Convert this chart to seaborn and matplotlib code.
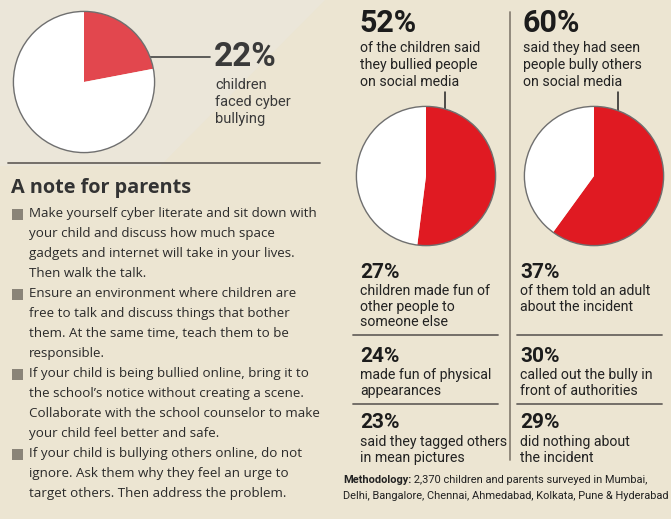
import matplotlib
matplotlib.use("Agg")
import matplotlib.pyplot as plt
import seaborn as sns
from matplotlib.patches import Circle, Polygon, Rectangle

sns.set_theme(style="white")
plt.rcParams['font.family'] = ['Open Sans', 'DejaVu Sans']

# ---- data ----
pie_labels = ["faced cyber bullying", "bullied on social media", "saw others bullied"]
pie_values = [22, 52, 60]
headline_pcts = ["22%", "52%", "60%"]
headline_texts = [
    "children\nfaced cyber\nbullying",
    "of the children said\nthey bullied people\non social media",
    "said they had seen\npeople bully others\non social media",
]
left_pcts = ["27%", "24%", "23%"]
left_texts = [
    "children made fun of\nother people to\nsomeone else",
    "made fun of physical\nappearances",
    "said they tagged others\nin mean pictures",
]
right_pcts = ["37%", "30%", "29%"]
right_texts = [
    "of them told an adult\nabout the incident",
    "called out the bully in\nfront of authorities",
    "did nothing about\nthe incident",
]
note_title = "A note for parents"
note_items = [
    ["Make yourself cyber literate and sit down with",
     "your child and discuss how much space",
     "gadgets and internet will take in your lives.",
     "Then walk the talk."],
    ["Ensure an environment where children are",
     "free to talk and discuss things that bother",
     "them. At the same time, teach them to be",
     "responsible."],
    ["If your child is being bullied online, bring it to",
     "the school\u2019s notice without creating a scene.",
     "Collaborate with the school counselor to make",
     "your child feel better and safe."],
    ["If your child is bullying others online, do not",
     "ignore. Ask them why they feel an urge to",
     "target others. Then address the problem."],
]
method_bold = "Methodology:"
method_lines = [" 2,370 children and parents surveyed in Mumbai,",
                "Delhi, Bangalore, Chennai, Ahmedabad, Kolkata, Pune & Hyderabad"]

# ---- figure ----
W, H = 671, 519
BG = "#ece5d2"
fig = plt.figure(figsize=(W / 100, H / 100), dpi=100, facecolor=BG)
bg = fig.add_axes([0, 0, 1, 1])
bg.set_xlim(0, W)
bg.set_ylim(H, 0)
bg.axis("off")
bg.add_patch(Rectangle((0, 0), W, H, color=BG, zorder=0))
bg.add_patch(Polygon([(0, 0), (325, 0), (160, 166), (0, 166)], closed=True,
                     color="#ebe6d9", zorder=0.5, lw=0))

NARROW = ['Roboto', 'DejaVu Sans']

def pie_at(cx, cy, r, value, red):
    ax = fig.add_axes([(cx - r) / W, 1 - (cy + r) / H, 2 * r / W, 2 * r / H])
    ax.pie([value, 100 - value], colors=[red, "white"], startangle=90,
           counterclock=False, radius=1, wedgeprops=dict(linewidth=0))
    ax.add_patch(Circle((0, 0), 1, fill=False, edgecolor="#6f6f6f", lw=1.0))
    ax.set_xlim(-1.02, 1.02)
    ax.set_ylim(-1.02, 1.02)
    ax.set_aspect("auto")
    ax.axis("off")
    ax.patch.set_alpha(0)
    return ax

# pie 1
pie_at(84, 82, 72, pie_values[0], "#e2474e")
bg.plot([118, 210], [57, 57], color="#444444", lw=1.2, zorder=5)
bg.plot([118], [57], marker="o", ms=3, color="#333333", zorder=5)
bg.text(214, 57, headline_pcts[0], fontsize=24, fontweight="bold", color="#3a3a3a",
        va="center", ha="left", family=NARROW)
bg.text(215, 102, headline_texts[0], fontsize=10.5, color="#3a3a3a", va="center",
        ha="left", linespacing=1.28, family=NARROW)

# separator line left
bg.plot([8, 320], [163, 163], color="#6a6560", lw=1.3)

# note
bg.text(11, 188, note_title, fontsize=14.3, fontweight="bold", color="#333333",
        va="center", ha="left")
y = 214
for item in note_items:
    bg.add_patch(Rectangle((12, y - 5), 11, 11, color="#8a8478", lw=0))
    for line in item:
        bg.text(29, y, line, fontsize=9.6, color="#2a2a2a", va="center", ha="left")
        y += 19.9
    y += 0.3

# divider right
bg.plot([510, 510], [12, 460], color="#8a8276", lw=1.3)

# headline pies
for cx, xt, pct, txt, val in [(426, 360, headline_pcts[1], headline_texts[1], pie_values[1]),
                              (594, 523, headline_pcts[2], headline_texts[2], pie_values[2])]:
    bg.text(xt - 1, 23, pct, fontsize=22, fontweight="bold", color="#1c1c1c",
            va="center", ha="left", family=NARROW)
    bg.text(xt, 65, txt, fontsize=10.2, color="#222222", va="center", ha="left",
            linespacing=1.3, family=NARROW)
    pie_at(cx, 176, 71, val, "#e01a22")

bg.plot([445, 445], [92, 123], color="#222222", lw=1.1, zorder=5)
bg.plot([445], [123], marker="o", ms=3, color="#222222", zorder=5)
bg.plot([618, 618], [92, 123], color="#222222", lw=1.1, zorder=5)
bg.plot([618], [123], marker="o", ms=3, color="#222222", zorder=5)

# stat blocks
pct_y = [272, 356, 423]
for col_x, pcts, texts, sep in [(360, left_pcts, left_texts, (353, 498)),
                                (520, right_pcts, right_texts, (517, 662))]:
    for i, (p, t) in enumerate(zip(pcts, texts)):
        bg.text(col_x, pct_y[i], p, fontsize=15, fontweight="bold", color="#1c1c1c",
                va="center", ha="left", family=NARROW)
        bg.text(col_x, pct_y[i] + 12, t, fontsize=10.2, color="#222222", va="top",
                ha="left", linespacing=1.15, family=NARROW)
    for sy in (335, 404):
        bg.plot(list(sep), [sy, sy], color="#6a6560", lw=1.3)

# methodology
t1 = bg.text(343, 480, method_bold, fontsize=7.9, fontweight="bold", color="#222222",
             va="center", ha="left", family=NARROW)
fig.canvas.draw()
bb = t1.get_window_extent()
inv = bg.transData.inverted()
x_end = inv.transform((bb.x1, bb.y0))[0]
bg.text(x_end, 480, method_lines[0], fontsize=7.9, color="#222222", va="center",
        ha="left", family=NARROW)
bg.text(343, 496, method_lines[1], fontsize=7.9, color="#222222", va="center",
        ha="left", family=NARROW)

fig.savefig("out.png", dpi=100, facecolor=BG)
